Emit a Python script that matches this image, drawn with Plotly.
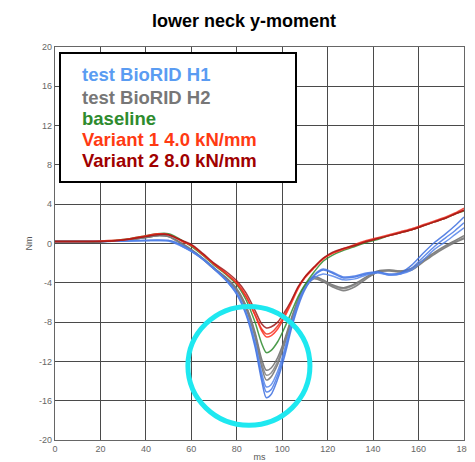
import plotly.graph_objects as go

# time axis (ms)
ms = [0, 10, 20, 30, 40, 45, 50, 53, 56, 60, 65, 70, 75, 80, 84, 88, 91, 93, 95, 98,
      101, 104, 107, 110, 114, 118, 122, 127, 132, 137, 142, 147, 152, 157, 162, 167, 172, 176, 180]

# test BioRID H1 (blue)
h1_a = [0.2, 0.2, 0.2, 0.25, 0.3, 0.3, 0.3, 0.1, -0.3, -0.8, -1.6, -2.6, -3.7, -5.2, -7.2, -10.5, -14.0, -15.7, -15.4, -13.8,
        -11.5, -8.7, -6.4, -4.7, -3.3, -2.7, -3.0, -3.5, -3.4, -3.1, -2.9, -3.1, -3.0, -2.2, -1.0, 0.1, 1.0, 1.8, 2.7]
h1_b = [0.2, 0.2, 0.2, 0.25, 0.3, 0.35, 0.3, 0.1, -0.2, -0.7, -1.5, -2.5, -3.6, -5.0, -7.0, -10.2, -13.6, -15.1, -14.9, -13.4,
        -11.1, -8.4, -6.1, -4.5, -3.2, -2.6, -2.9, -3.4, -3.3, -3.0, -2.9, -3.2, -3.1, -2.5, -1.4, -0.3, 0.6, 1.3, 2.1]
h1_c = [0.2, 0.2, 0.2, 0.25, 0.3, 0.3, 0.25, 0.0, -0.3, -0.8, -1.6, -2.6, -3.7, -5.1, -7.0, -10.0, -13.2, -14.6, -14.4, -13.0,
        -10.8, -8.2, -6.0, -4.5, -3.5, -3.1, -3.3, -3.7, -3.6, -3.2, -3.0, -3.2, -3.1, -2.7, -1.7, -0.6, 0.2, 0.9, 1.6]

# test BioRID H2 (grey)
h2_a = [0.2, 0.2, 0.2, 0.3, 0.6, 0.8, 0.7, 0.4, 0.0, -0.6, -1.5, -2.5, -3.4, -4.6, -6.3, -9.0, -11.8, -12.9, -12.7, -11.6,
        -9.8, -7.6, -5.7, -4.3, -3.4, -3.7, -4.2, -4.5, -4.1, -3.4, -2.8, -2.7, -2.8, -2.5, -1.7, -0.9, -0.2, 0.3, 0.8]
h2_b = [0.2, 0.2, 0.2, 0.3, 0.6, 0.8, 0.7, 0.4, -0.1, -0.7, -1.6, -2.6, -3.5, -4.8, -6.6, -9.5, -12.6, -13.9, -13.6, -12.3,
        -10.3, -8.0, -5.9, -4.5, -3.6, -3.9, -4.4, -4.8, -4.4, -3.6, -2.9, -2.8, -2.9, -2.7, -1.9, -1.1, -0.4, 0.1, 0.5]
h2_c = [0.2, 0.2, 0.2, 0.3, 0.6, 0.8, 0.7, 0.3, -0.1, -0.7, -1.5, -2.5, -3.5, -4.7, -6.4, -9.2, -12.2, -13.4, -13.2, -12.0,
        -10.0, -7.8, -5.8, -4.4, -3.5, -3.8, -4.3, -4.6, -4.2, -3.5, -2.9, -2.7, -2.8, -2.6, -1.8, -1.0, -0.3, 0.2, 0.6]

# baseline (green)
base = [0.2, 0.2, 0.2, 0.4, 0.8, 1.0, 1.0, 0.7, 0.3, -0.3, -1.2, -2.2, -3.1, -4.2, -5.7, -8.0, -10.2, -11.1, -10.9, -10.0,
        -8.6, -7.0, -5.4, -4.2, -2.9, -1.8, -1.2, -0.7, -0.3, 0.1, 0.4, 0.8, 1.1, 1.4, 1.8, 2.2, 2.6, 3.0, 3.3]

# Variant 1 4.0 kN/mm (red)
v1_a = [0.2, 0.2, 0.2, 0.35, 0.75, 0.95, 0.9, 0.6, 0.25, -0.2, -1.1, -2.1, -3.0, -4.0, -5.3, -7.3, -8.9, -9.5, -9.4, -8.7,
        -7.5, -6.1, -4.6, -3.5, -2.5, -1.6, -1.0, -0.6, -0.2, 0.2, 0.5, 0.8, 1.1, 1.4, 1.8, 2.2, 2.6, 3.0, 3.4]
v1_b = [0.2, 0.2, 0.25, 0.4, 0.8, 1.0, 0.9, 0.6, 0.2, -0.2, -1.1, -2.1, -3.0, -4.1, -5.4, -7.2, -8.7, -9.2, -9.1, -8.4,
        -7.3, -5.9, -4.5, -3.4, -2.4, -1.5, -1.0, -0.5, -0.1, 0.3, 0.6, 0.9, 1.2, 1.5, 1.9, 2.3, 2.7, 3.1, 3.6]

# Variant 2 8.0 kN/mm (dark red)
v2_a = [0.2, 0.2, 0.2, 0.35, 0.7, 0.9, 0.9, 0.6, 0.3, -0.1, -1.0, -2.0, -2.8, -3.8, -5.0, -6.8, -8.2, -8.6, -8.5, -8.0,
        -7.0, -5.8, -4.4, -3.4, -2.4, -1.5, -0.9, -0.5, -0.2, 0.2, 0.5, 0.8, 1.1, 1.4, 1.8, 2.2, 2.6, 3.0, 3.4]

legend_labels = ["test BioRID H1", "test BioRID H2", "baseline", "Variant 1 4.0 kN/mm", "Variant 2 8.0 kN/mm"]
legend_colors = ["#5a9cf2", "#777777", "#2e8b2e", "#ff3a12", "#a00000"]

x_ticks = [0, 20, 40, 60, 80, 100, 120, 140, 160, 180]
y_ticks = [-20, -16, -12, -8, -4, 0, 4, 8, 12, 16, 20]

series = [
    (h2_a, "#6a6a6a"), (h2_b, "#707070"), (h2_c, "#808080"),
    (h1_a, "#3d6fe0"), (h1_b, "#4a7ae6"), (h1_c, "#5585ea"),
    (base, "#2e8b2e"),
    (v1_a, "#ff2a1a"), (v1_b, "#f03020"),
    (v2_a, "#a01818"),
]

fig = go.Figure()
for ys, col in series:
    fig.add_trace(go.Scatter(x=ms, y=ys, mode="lines", line=dict(color=col, width=1.5, shape="spline", smoothing=0.8),
                             opacity=0.85, showlegend=False, hoverinfo="skip"))

axis_common = dict(showgrid=True, gridcolor="#4a4a4a", gridwidth=1.2, zeroline=False,
                   showline=True, linecolor="#666666", linewidth=1.2, mirror=True, automargin=False,
                   ticks="", tickfont=dict(family="Liberation Sans, Arial", size=9, color="#666666"))

fig.update_xaxes(range=[0, 180], tickvals=x_ticks, ticktext=[str(v) for v in x_ticks],
                 title=dict(text="ms", font=dict(family="Liberation Sans, Arial", size=9, color="#555555"), standoff=0),
                 **axis_common)
fig.update_yaxes(range=[-20, 20], tickvals=y_ticks, ticktext=[str(v) for v in y_ticks],
                 title=dict(text="Nm", font=dict(family="Liberation Sans, Arial", size=9, color="#555555"), standoff=4),
                 **axis_common)

# highlight circle
fig.add_shape(type="circle", xref="x", yref="y", x0=58.5, x1=112.2, y0=-6.4, y1=-18.5,
              line=dict(color="#1ee8f0", width=5))

# legend box (positions relative to plot area: left 55, top 47, width 409, height 393 on screen)
fig.add_shape(type="rect", xref="paper", yref="paper",
              x0=(60 - 55) / 409, x1=(296 - 55) / 409, y0=(440 - 182) / 393, y1=(440 - 53) / 393,
              line=dict(color="black", width=2), fillcolor="white", layer="above")
ys_px = [75, 97, 118, 139, 160]
for lab, col, yp in zip(legend_labels, legend_colors, ys_px):
    fig.add_annotation(xref="paper", yref="paper", x=(80 - 55) / 409, y=(440 - yp) / 393,
                       xanchor="left", yanchor="middle", showarrow=False,
                       text="<b>" + lab + "</b>",
                       font=dict(family="Liberation Sans, Arial", size=18.5, color=col))

# page body has an 8px margin, so the figure is offset by 8px
fig.update_layout(
    width=467, height=454,
    margin=dict(l=47, r=11, t=39, b=22),
    paper_bgcolor="white", plot_bgcolor="white",
    title=dict(text="<b>lower neck y-moment</b>", x=236 / 467, xanchor="center", y=1 - 13 / 454, yanchor="middle",
               font=dict(family="Liberation Sans, Arial", size=18, color="black")),
)

fig.write_html("out.html")
